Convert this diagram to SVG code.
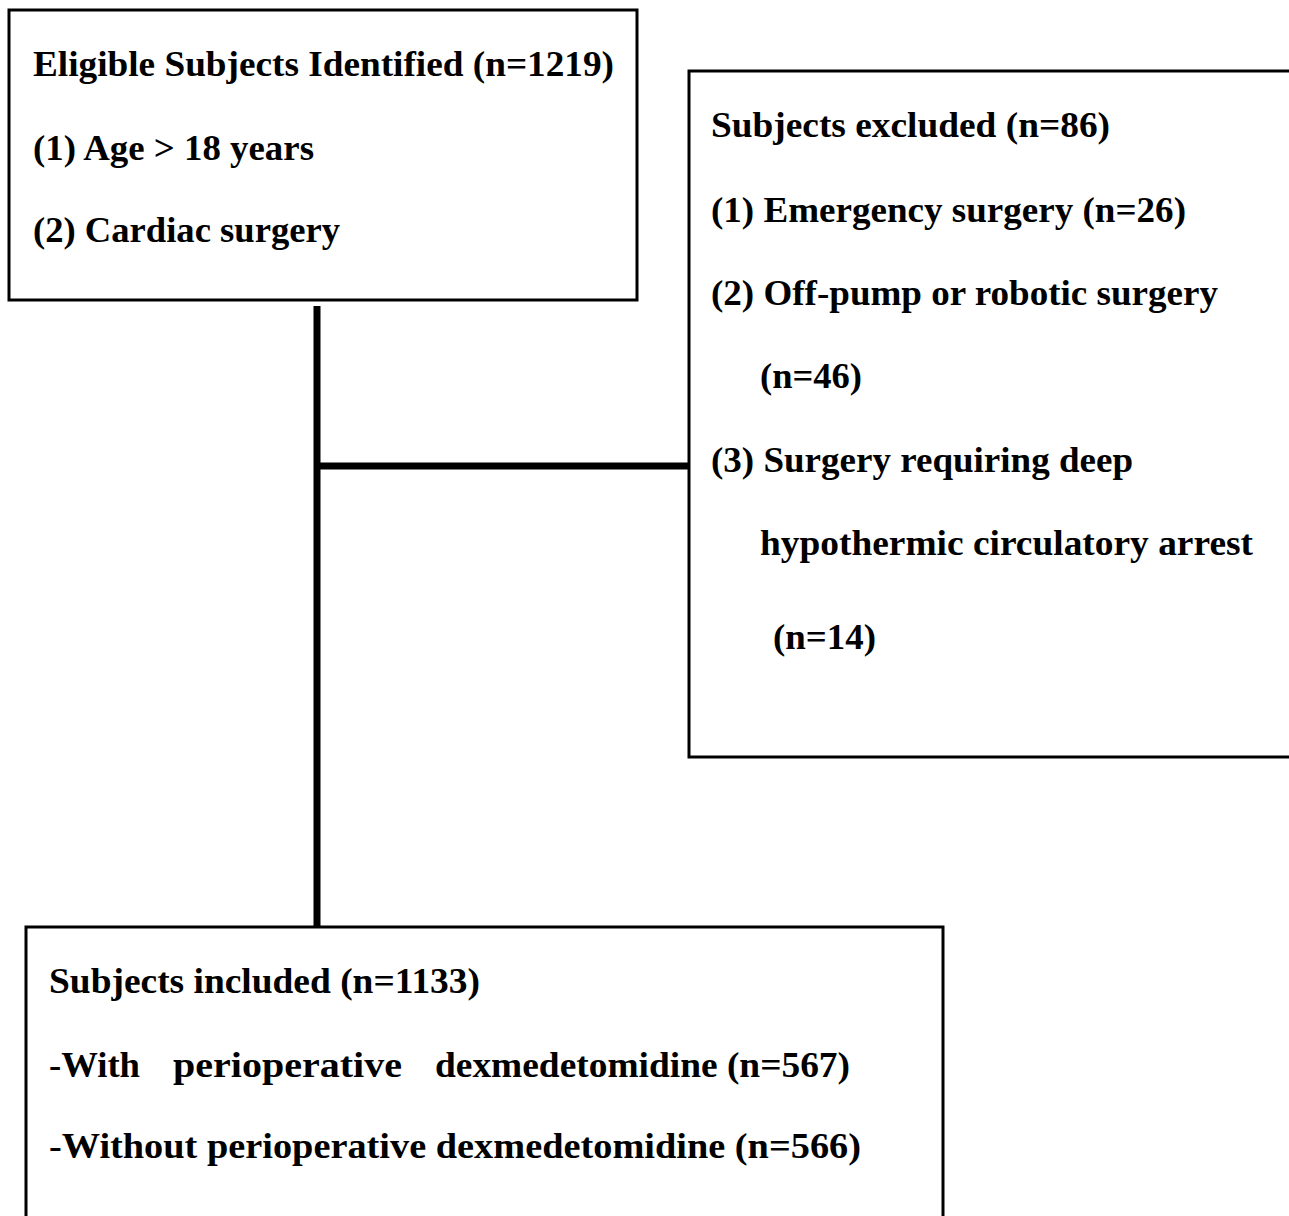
<svg xmlns="http://www.w3.org/2000/svg" width="1289" height="1216" viewBox="0 0 1289 1216">
<style>
.box{fill:#fff;stroke:#000;stroke-width:3}
.t{font-family:"Liberation Serif","Times New Roman",serif;font-weight:bold;font-size:35px;fill:#000}
.c{stroke:#000;stroke-width:7;fill:none}
</style>
<rect width="1289" height="1216" fill="#fff"/>
<g id="connectors">
<line class="c" x1="317" y1="306" x2="317" y2="928"/>
<line class="c" x1="317" y1="466" x2="690" y2="466"/>
</g>
<g id="eligible">
<rect class="box" x="9" y="10" width="628" height="290"/>
<text class="t" x="33" y="76" textLength="581" lengthAdjust="spacingAndGlyphs">Eligible Subjects Identified (n=1219)</text>
<text class="t" x="33" y="160" textLength="281" lengthAdjust="spacingAndGlyphs">(1) Age &gt; 18 years</text>
<text class="t" x="33" y="242" textLength="307" lengthAdjust="spacingAndGlyphs">(2) Cardiac surgery</text>
</g>
<g id="excluded">
<rect class="box" x="689" y="71" width="620" height="686"/>
<text class="t" x="711" y="137" textLength="399" lengthAdjust="spacingAndGlyphs">Subjects excluded (n=86)</text>
<text class="t" x="711" y="222" textLength="475" lengthAdjust="spacingAndGlyphs">(1) Emergency surgery (n=26)</text>
<text class="t" x="711" y="305" textLength="507" lengthAdjust="spacingAndGlyphs">(2) Off-pump or robotic surgery</text>
<text class="t" x="760" y="388" textLength="102" lengthAdjust="spacingAndGlyphs">(n=46)</text>
<text class="t" x="711" y="472" textLength="422" lengthAdjust="spacingAndGlyphs">(3) Surgery requiring deep</text>
<text class="t" x="760" y="555" textLength="493" lengthAdjust="spacingAndGlyphs">hypothermic circulatory arrest</text>
<text class="t" x="773" y="649" textLength="103" lengthAdjust="spacingAndGlyphs">(n=14)</text>
</g>
<g id="included">
<rect class="box" x="26" y="927" width="917" height="310"/>
<text class="t" x="49" y="993" textLength="431" lengthAdjust="spacingAndGlyphs">Subjects included (n=1133)</text>
<text class="t" x="49" y="1077" textLength="91" lengthAdjust="spacingAndGlyphs">-With</text>
<text class="t" x="173" y="1077" textLength="229" lengthAdjust="spacingAndGlyphs">perioperative</text>
<text class="t" x="435" y="1077" textLength="415" lengthAdjust="spacingAndGlyphs">dexmedetomidine (n=567)</text>
<text class="t" x="49" y="1158" textLength="812" lengthAdjust="spacingAndGlyphs">-Without perioperative dexmedetomidine (n=566)</text>
</g>
</svg>
